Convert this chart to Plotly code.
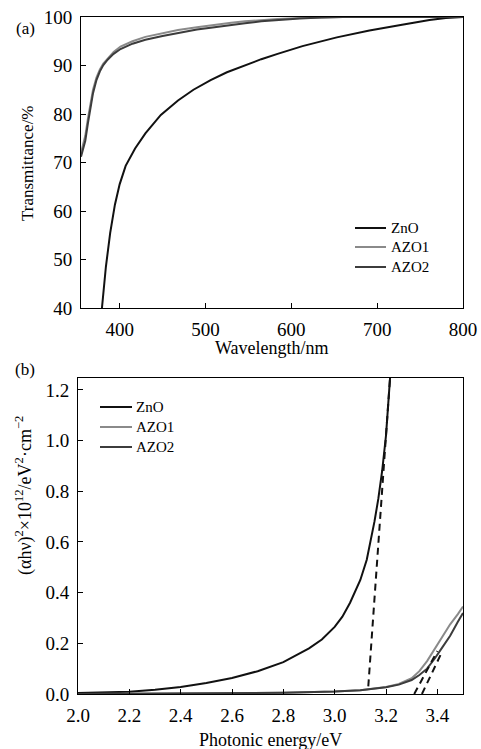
import plotly.graph_objects as go

# ---- (a) Transmittance data ----
wl_zno = [379.4, 384, 389, 394.5, 400, 407, 418, 430, 448, 468, 486, 506, 525, 546, 565, 584, 613, 653, 691, 729, 761, 780, 800]
t_zno = [40, 48.5, 55.5, 61.3, 65.5, 69.3, 72.9, 76.0, 79.8, 82.8, 85.0, 87.0, 88.6, 90.1, 91.3, 92.4, 94.0, 95.8, 97.2, 98.4, 99.4, 99.8, 100]

wl_azo = [355, 360, 363, 366, 369, 373, 377, 381, 386, 393, 401, 415, 430, 450, 468, 490, 506, 530, 546, 565, 584, 610, 635, 660, 700, 800]
t_azo1 = [72, 75.5, 79, 82, 85, 87.5, 89.2, 90.4, 91.5, 92.8, 93.9, 95.0, 95.9, 96.7, 97.3, 97.9, 98.3, 98.8, 99.1, 99.4, 99.6, 99.8, 99.95, 100, 100, 100]
t_azo2 = [71.2, 74.5, 78, 81.2, 84.3, 87, 88.8, 90.1, 91.2, 92.4, 93.4, 94.5, 95.3, 96.1, 96.7, 97.4, 97.8, 98.4, 98.7, 99.1, 99.4, 99.7, 99.9, 100, 100, 100]

# ---- (b) Tauc plot data ----
e_zno = [2.0, 2.1, 2.2, 2.3, 2.4, 2.5, 2.6, 2.7, 2.8, 2.9, 2.95, 3.0, 3.03, 3.06, 3.08, 3.1, 3.125, 3.14, 3.155, 3.17, 3.185, 3.2, 3.216]
v_zno = [0.004, 0.006, 0.009, 0.017, 0.028, 0.043, 0.063, 0.09, 0.126, 0.18, 0.215, 0.265, 0.305, 0.36, 0.405, 0.45, 0.53, 0.6, 0.68, 0.77, 0.88, 1.02, 1.25]

e_azo = [2.0, 2.4, 2.8, 3.0, 3.1, 3.2, 3.25, 3.3, 3.33, 3.36, 3.39, 3.42, 3.45, 3.48, 3.5]
v_azo1 = [0.0, 0.002, 0.005, 0.01, 0.015, 0.028, 0.04, 0.062, 0.09, 0.13, 0.18, 0.23, 0.275, 0.315, 0.345]
v_azo2 = [0.0, 0.002, 0.005, 0.01, 0.015, 0.027, 0.037, 0.055, 0.075, 0.1, 0.14, 0.185, 0.23, 0.285, 0.32]

# tangent (extrapolation) lines
tan_zno_e = [3.131, 3.216]
tan_zno_v = [0.03, 1.25]
tan_azo1_e = [3.31, 3.40]
tan_azo1_v = [0.0, 0.17]
tan_azo2_e = [3.34, 3.42]
tan_azo2_v = [0.0, 0.17]

names = ["ZnO", "AZO1", "AZO2"]
colors = ["#111111", "#8a8a8a", "#3c3c3c"]

FONT = "Liberation Serif"
W, H = 481, 749

fig = go.Figure()

for x, y, n, c in [(wl_zno, t_zno, names[0], colors[0]),
                   (wl_azo, t_azo1, names[1], colors[1]),
                   (wl_azo, t_azo2, names[2], colors[2])]:
    fig.add_trace(go.Scatter(x=x, y=y, name=n, mode="lines", showlegend=False,
                             line=dict(color=c, width=2),
                             xaxis="x", yaxis="y"))

for x, y, n, c in [(e_zno, v_zno, names[0], colors[0]),
                   (e_azo, v_azo1, names[1], colors[1]),
                   (e_azo, v_azo2, names[2], colors[2])]:
    fig.add_trace(go.Scatter(x=x, y=y, name=n, mode="lines", showlegend=False,
                             line=dict(color=c, width=2),
                             xaxis="x2", yaxis="y2"))
for x, y in [(tan_zno_e, tan_zno_v), (tan_azo1_e, tan_azo1_v), (tan_azo2_e, tan_azo2_v)]:
    fig.add_trace(go.Scatter(x=x, y=y, mode="lines", showlegend=False,
                             line=dict(color="#111111", width=2, dash="7px,5px"),
                             xaxis="x2", yaxis="y2"))

tickfont = dict(family=FONT, size=19, color="black")
axcommon = dict(showline=True, linecolor="black", linewidth=1, mirror=True, ticks="inside",
                ticklen=5, tickwidth=1, tickcolor="black", showgrid=False, zeroline=False,
                tickfont=tickfont, automargin=False, ticklabelstandoff=4)


def px(xp, yp):
    return xp / W, 1 - yp / H


annotations = []
shapes = []


def text(t, xp, yp, size, angle=0, xanchor="center"):
    x, y = px(xp, yp)
    annotations.append(dict(text=t, x=x, y=y, xref="paper", yref="paper", showarrow=False,
                            xanchor=xanchor, yanchor="middle", textangle=angle,
                            font=dict(family=FONT, size=size, color="black")))


# manual legends (legend samples)
def legend(x0, x1, xt, ys):
    for n, c, yp in zip(names, colors, ys):
        a, b = px(x0, yp)
        a2, _ = px(x1, yp)
        shapes.append(dict(type="line", xref="paper", yref="paper", x0=a, x1=a2, y0=b, y1=b,
                           line=dict(color=c, width=2)))
        text(n, xt, yp, 15, xanchor="left")


legend(355, 386, 389, [228, 247, 267])
legend(100, 132, 134, [407, 427, 447])

text("(a)", 25, 28, 17)
text("(b)", 25, 370, 17)
text("Transmittance/%", 28, 163, 17, angle=-90)
text("Wavelength/nm", 272, 348, 18)
text("(αhν)<sup>2</sup>×10<sup>12</sup>/eV<sup>2</sup>·cm<sup>−2</sup>", 24, 496, 18, angle=-90)
text("Photonic energy/eV", 270, 740, 18)

fig.update_layout(
    width=W, height=H, margin=dict(l=0, r=0, t=0, b=0),
    paper_bgcolor="white", plot_bgcolor="white",
    font=dict(family=FONT, color="black"),
    showlegend=False,
    xaxis=dict(domain=[81 / W, 463 / W], range=[355, 800], tickvals=[400, 500, 600, 700, 800],
               anchor="y", **axcommon),
    yaxis=dict(domain=[1 - 308 / H, 1 - 17 / H], range=[40, 100], tickvals=[40, 50, 60, 70, 80, 90, 100],
               anchor="x", **axcommon),
    xaxis2=dict(domain=[78 / W, 463 / W], range=[2.0, 3.5], tickvals=[2.0, 2.2, 2.4, 2.6, 2.8, 3.0, 3.2, 3.4],
                tickformat=".1f", anchor="y2", **axcommon),
    yaxis2=dict(domain=[1 - 694 / H, 1 - 378 / H], range=[0, 1.247], tickvals=[0, 0.2, 0.4, 0.6, 0.8, 1.0, 1.2],
                tickformat=".1f", anchor="x2", **axcommon),
    annotations=annotations,
    shapes=shapes,
)

fig.write_html("out.html", config={"displayModeBar": False},
               post_script="document.body.style.margin='0';")
